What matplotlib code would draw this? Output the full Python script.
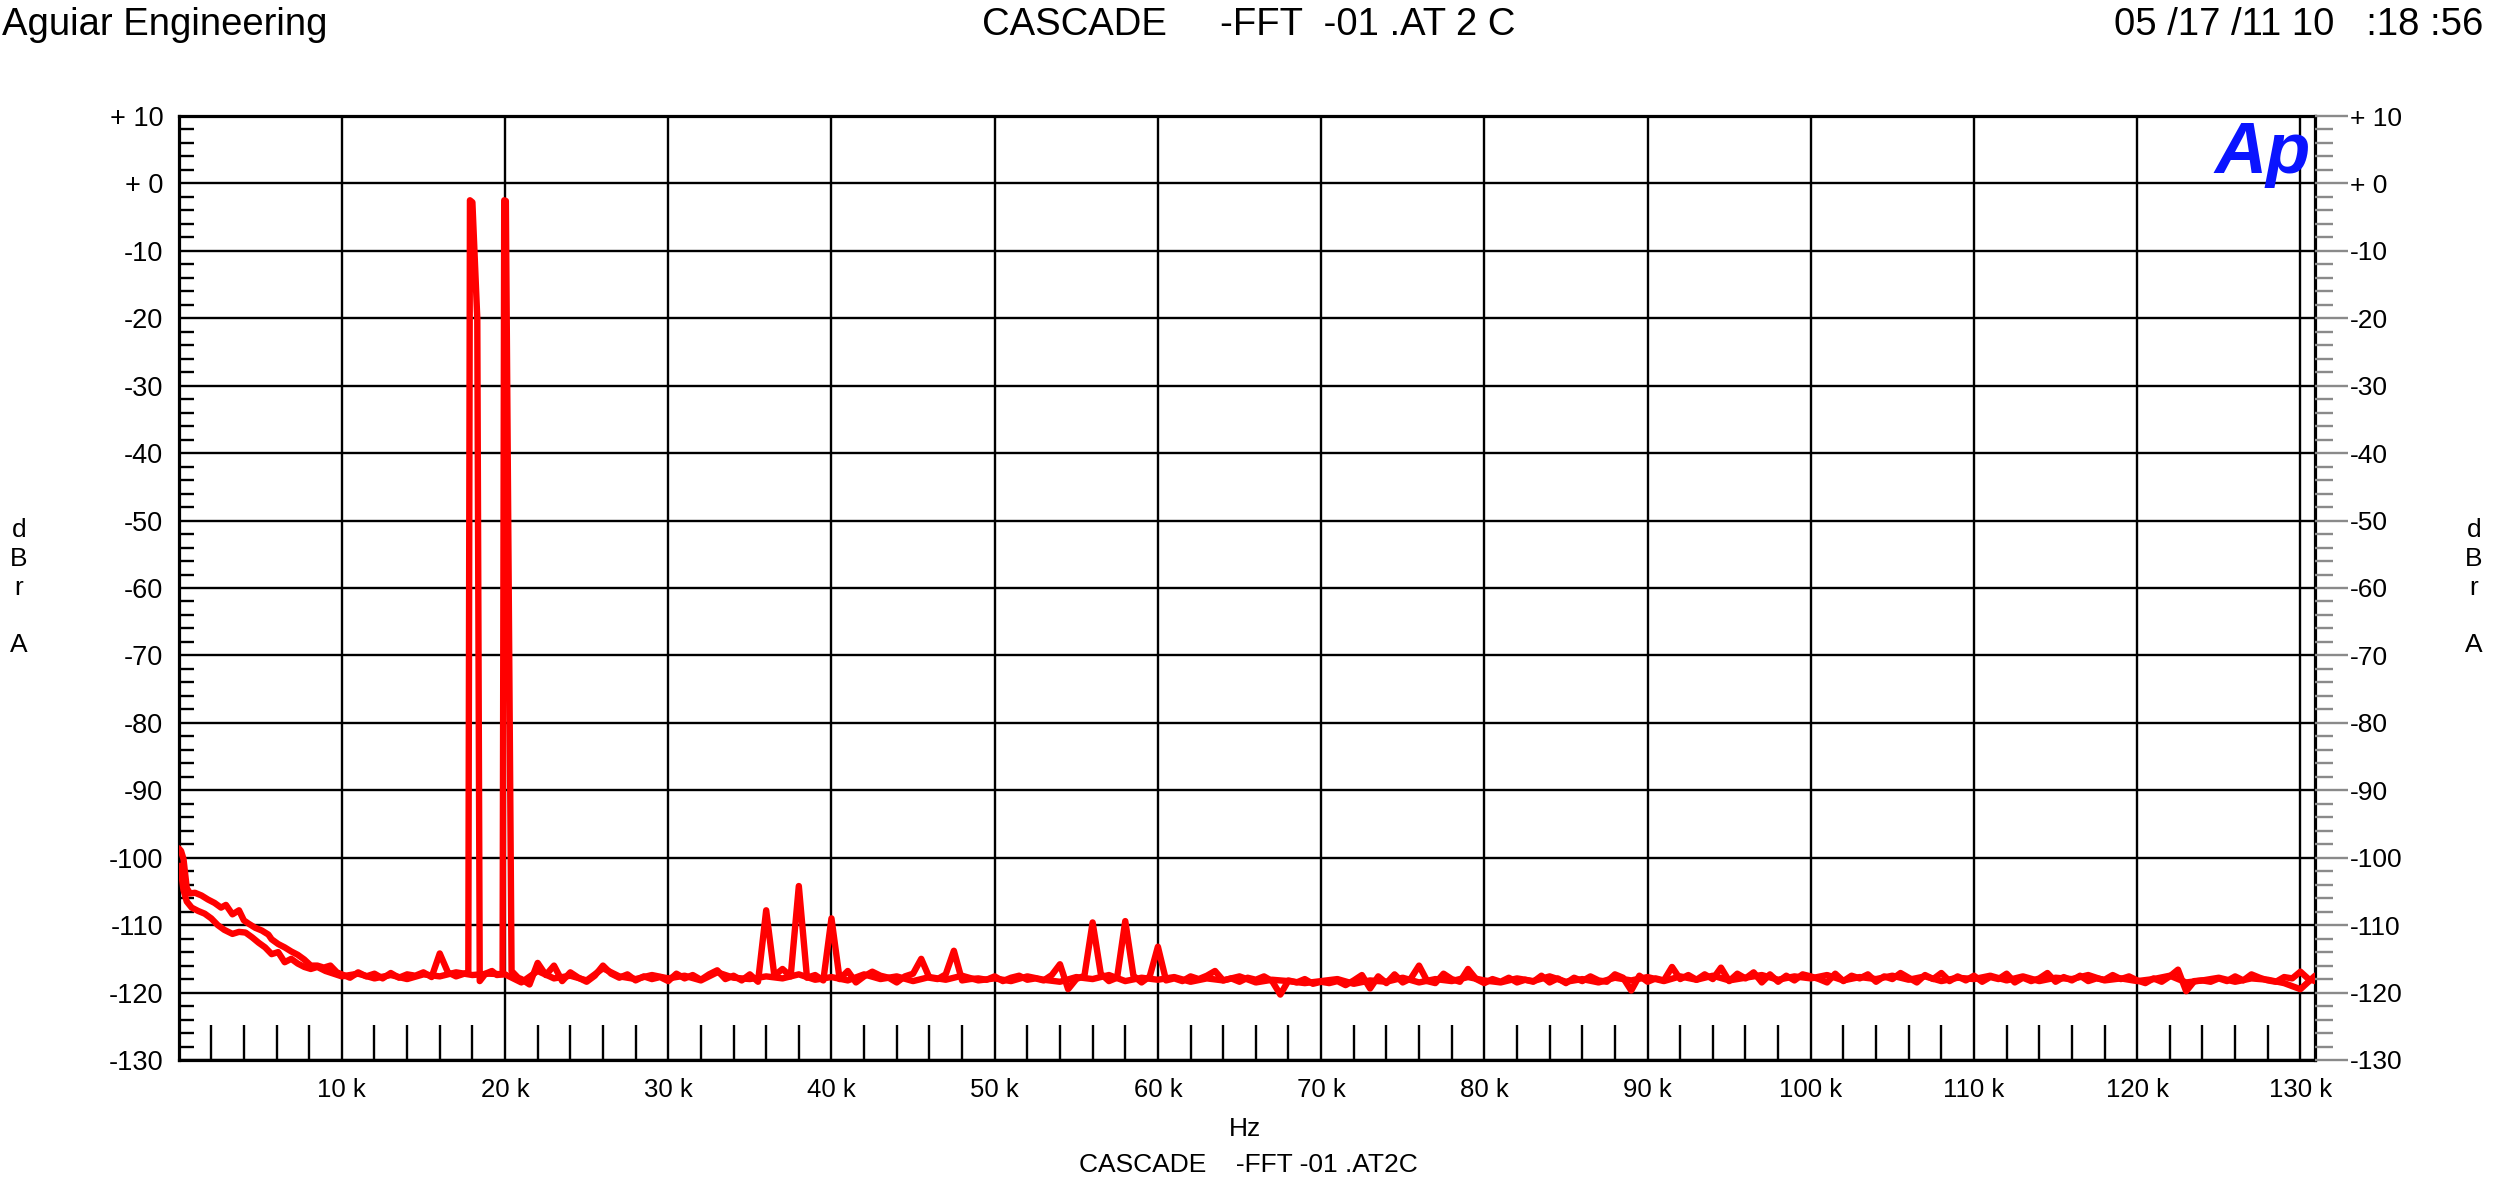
import numpy as np
import matplotlib
matplotlib.use("Agg")
import matplotlib.pyplot as plt

# ---------------- data ----------------
# Trace A: low-frequency roll-off (Hz, dBrA)
a_low_f = [0, 150, 300, 500, 700, 1000, 1400, 1800, 2200, 2600, 2900, 3300, 3700, 4000,
           4300, 4700, 5100, 5500, 5700, 6100, 6500, 6900, 7300, 7700, 8100, 8500, 8900,
           9300, 9700]
a_low_v = [-98.6, -99.0, -100.2, -104.5, -105.3, -105.2, -105.6, -106.2, -106.7, -107.4,
           -107.0, -108.4, -107.8, -109.3, -109.8, -110.4, -110.8, -111.4, -112.1, -112.8,
           -113.3, -113.9, -114.4, -115.1, -116.0, -116.0, -116.3, -116.0, -117.0]

# Trace A: floor 10k..17.5k (500 Hz bins)
a_floor1_start = 10000
a_floor1_v = [-117.3, -117.8, -117.0, -117.6, -117.2, -117.9, -117.1, -117.8, -117.3, -117.5,
              -117.0, -117.7, -114.2, -117.0, -117.6, -117.2]

# Trace A: the two test tones (18 kHz, 20 kHz)
a_tone_f = [17750, 17850, 18000, 18300, 18450, 18800, 19200, 19500, 19850, 19950, 20050,
            20400, 20800]
a_tone_v = [-117.0, -2.5, -2.8, -20.0, -118.3, -117.2, -116.8, -117.4, -117.3, -2.5, -2.6,
            -116.8, -117.8]

# Trace A: floor 21k..130.5k (500 Hz bins), one line per 10 kHz
a_floor2_start = 21000
a_floor2_v = [
    -118.0, -118.8, -115.6, -117.4, -116.0, -118.3, -117.0, -117.8, -118.4, -117.5,
    -116.0, -117.2, -117.8, -117.3, -118.2, -117.6, -118.0, -117.7, -118.3, -117.2,
    -117.9, -117.4, -118.1, -117.3, -116.7, -118.0, -117.5, -118.2, -117.3, -118.4,
    -107.8, -117.5, -116.5, -117.6, -104.2, -117.8, -117.4, -118.2, -109.0, -118.0,
    -116.8, -118.5, -117.6, -116.9, -117.5, -117.8, -118.5, -117.6, -117.2, -115.0,
    -117.8, -118.0, -117.3, -113.8, -118.2, -118.0, -117.9, -118.1, -117.6, -118.3,
    -117.8, -117.5, -118.1, -117.9, -118.2, -117.4, -115.8, -119.5, -118.0, -117.5,
    -109.6, -117.2, -118.3, -117.8, -109.4, -117.5, -118.5, -117.6, -113.2, -118.2,
    -117.9, -118.3, -117.6, -118.0, -117.5, -116.8, -118.2, -117.9, -118.4, -117.8,
    -118.1, -117.6, -118.3, -120.3, -118.2, -118.5, -118.0, -118.7, -118.4, -118.6,
    -118.3, -118.9, -118.2, -117.4, -119.4, -117.6, -118.6, -117.3, -118.5, -117.9,
    -116.0, -118.3, -118.6, -117.2, -118.0, -118.4, -116.5, -118.0, -118.6, -118.0,
    -118.4, -117.8, -118.5, -118.1, -118.4, -117.5, -118.5, -117.9, -118.6, -117.8,
    -118.3, -117.6, -118.2, -118.4, -117.3, -117.8, -119.7, -117.5, -118.4, -117.9,
    -118.2, -116.2, -118.0, -117.4, -118.1, -117.3, -118.0, -116.3, -118.3, -117.2,
    -117.9, -117.0, -118.5, -117.3, -118.4, -117.5, -118.2, -117.3, -117.6, -118.0,
    -118.5, -117.2, -118.3, -117.5, -117.9, -117.3, -118.4, -117.6, -118.0, -117.1,
    -117.8, -118.5, -117.4, -118.0, -117.1, -118.3, -117.6, -118.2, -117.5, -118.4,
    -117.7, -118.0, -117.2, -118.5, -117.8, -118.3, -117.9, -117.1, -118.4, -117.7,
    -118.2, -117.5, -118.3, -117.9, -118.1, -117.4, -118.0, -117.6, -118.2, -118.6,
    -117.9, -118.4, -117.6, -116.6, -119.8, -118.3, -118.2, -118.4, -117.9, -118.3,
    -117.6, -118.2, -117.3, -117.8, -118.2, -118.4, -117.7, -117.9, -116.9, -118.0,
]
a_end_f = [130900]
a_end_v = [-118.3]

# Trace B: low-frequency roll-off
b_low_f = [100, 300, 500, 800, 1200, 1600, 2000, 2400, 2800, 3300, 3700, 4100, 4500, 4900,
           5300, 5700, 6100, 6500, 6900, 7300, 7700, 8100, 8500, 9000, 9500]
b_low_v = [-101.2, -104.8, -106.5, -107.4, -107.9, -108.3, -109.0, -110.0, -110.7, -111.3,
           -111.0, -111.1, -111.8, -112.6, -113.3, -114.3, -114.0, -115.5, -115.0, -115.7,
           -116.2, -116.5, -116.2, -116.8, -117.2]

# Trace B: floor 10k..130k (1 kHz bins)
b_floor_start = 10000
b_floor_v = [
    -117.6, -117.2, -117.9, -117.4, -118.0, -117.3, -117.6, -117.0, -117.4, -117.2,
    -117.3, -118.5, -116.8, -117.9, -117.5, -118.2, -116.4, -117.6, -118.0, -117.4,
    -117.9, -117.5, -118.2, -117.0, -117.8, -118.0, -117.6, -117.9, -117.3, -118.1,
    -117.7, -118.2, -117.3, -118.0, -117.6, -118.3, -117.7, -118.1, -117.5, -118.2,
    -117.9, -118.3, -117.6, -118.1, -118.4, -117.7, -118.0, -117.4, -118.3, -117.8,
    -118.1, -117.7, -118.4, -117.9, -118.2, -117.6, -118.5, -118.1, -118.3, -118.6,
    -118.3, -118.0, -118.7, -118.2, -118.4, -117.8, -118.5, -118.0, -118.3, -117.7,
    -118.2, -118.5, -117.9, -118.3, -117.6, -118.4, -118.0, -118.5, -117.8, -118.2,
    -117.7, -118.3, -117.6, -118.1, -117.5, -118.2, -117.8, -117.4, -118.1, -117.6,
    -117.9, -117.4, -118.2, -117.7, -118.0, -117.5, -118.1, -117.6, -118.3, -117.8,
    -118.0, -117.5, -118.2, -117.6, -118.3, -117.8, -118.0, -117.4, -118.2, -117.9,
    -118.3, -118.0, -117.5, -118.5, -118.2, -117.8, -118.4, -117.9, -118.1, -118.6,
    -119.5,
]
b_end_f = [130900]
b_end_v = [-117.5]

x_tick_vals = list(range(10000, 130001, 10000))
x_tick_labels = ["%d k" % (v // 1000) for v in x_tick_vals]
y_tick_vals = list(range(-130, 11, 10))
y_tick_labels = ["+ 10" if v == 10 else "+ 0" if v == 0 else "%d" % v for v in y_tick_vals]

header_left = "Aguiar Engineering"
header_mid = "CASCADE     -FFT  -01 .AT 2 C"
header_right = "05 /17 /11 10   :18 :56"
x_label = "Hz"
caption = "CASCADE    -FFT -01 .AT2C"
y_unit = "d\nB\nr\n\nA"

# ---------------- build traces ----------------
a_f1 = a_floor1_start + 500 * np.arange(len(a_floor1_v))
a_f2 = a_floor2_start + 500 * np.arange(len(a_floor2_v))
trace_a_f = np.concatenate([a_low_f, a_f1, a_tone_f, a_f2, a_end_f])
trace_a_v = np.concatenate([a_low_v, a_floor1_v, a_tone_v, a_floor2_v, a_end_v])

b_f = b_floor_start + 1000 * np.arange(len(b_floor_v))
trace_b_f = np.concatenate([b_low_f, b_f, b_end_f])
trace_b_v = np.concatenate([b_low_v, b_floor_v, b_end_v])

# ---------------- fonts ----------------
plt.rcParams["font.family"] = ["Liberation Sans", "DejaVu Sans"]

# ---------------- figure ----------------
fig = plt.figure(figsize=(25, 11.91), dpi=100)
fig.patch.set_facecolor("white")
ax = fig.add_axes([0.07144, 0.1100, 0.8546, 0.7926])
ax.set_xlim(0, 130900)
ax.set_ylim(-130, 10)

ax.set_xticks(x_tick_vals)
ax.set_xticklabels(x_tick_labels, fontsize=18.5)
ax.set_xticks([v for v in range(2000, 130001, 2000) if v % 10000 != 0], minor=True)
ax.tick_params(axis="x", which="major", length=0, pad=13)
ax.tick_params(axis="x", which="minor", direction="in", length=25, width=1.7, color="black")

ax.set_yticks(y_tick_vals)
ax.set_yticklabels(y_tick_labels, fontsize=19.5)
ax.set_yticks([v for v in range(-128, 10, 2) if v % 10 != 0], minor=True)
ax.tick_params(axis="y", which="major", length=0, pad=11)
ax.tick_params(axis="y", which="minor", direction="in", length=11, width=1.7, color="black")

ax.grid(which="major", color="black", linewidth=1.7)
ax.set_axisbelow(True)
for s in ax.spines.values():
    s.set_linewidth(2.3)
    s.set_color("black")

ax2 = ax.twinx()
ax2.set_ylim(-130, 10)
ax2.set_yticks(y_tick_vals)
ax2.set_yticklabels(y_tick_labels, fontsize=19)
ax2.set_yticks([v for v in range(-128, 10, 2) if v % 10 != 0], minor=True)
ax2.tick_params(axis="y", which="major", direction="out", length=24, width=1.7,
                color="#8a8a8a", pad=1)
ax2.tick_params(axis="y", which="minor", direction="out", length=13, width=1.7,
                color="#8a8a8a")
for s in ax2.spines.values():
    s.set_visible(False)

ax.plot(trace_b_f, trace_b_v, color="#ff0000", linewidth=4.6, solid_joinstyle="round",
        solid_capstyle="round", zorder=3)
ax.plot(trace_a_f, trace_a_v, color="#ff0000", linewidth=4.6, solid_joinstyle="round",
        solid_capstyle="round", zorder=4)

# Ap logo
ax.text(0.998, 0.996, "Ap", transform=ax.transAxes, ha="right", va="top",
        fontsize=52, fontweight="bold", fontstyle="italic", color="#0a14ff", zorder=5)

# header texts
fig.text(0.0008, 0.979, header_left, ha="left", va="center", fontsize=27.5)
fig.text(0.4996, 0.979, header_mid, ha="center", va="center", fontsize=27.5)
fig.text(0.9935, 0.979, header_right, ha="right", va="center", fontsize=27.5)

# axis units
fig.text(0.0076, 0.5067, y_unit, ha="center", va="center", fontsize=19, linespacing=1.25)
fig.text(0.9896, 0.5067, y_unit, ha="center", va="center", fontsize=19, linespacing=1.25)
fig.text(0.498, 0.052, x_label, ha="center", va="center", fontsize=19)
fig.text(0.4992, 0.0218, caption, ha="center", va="center", fontsize=19)

fig.savefig("out.png", dpi=100, facecolor="white")
